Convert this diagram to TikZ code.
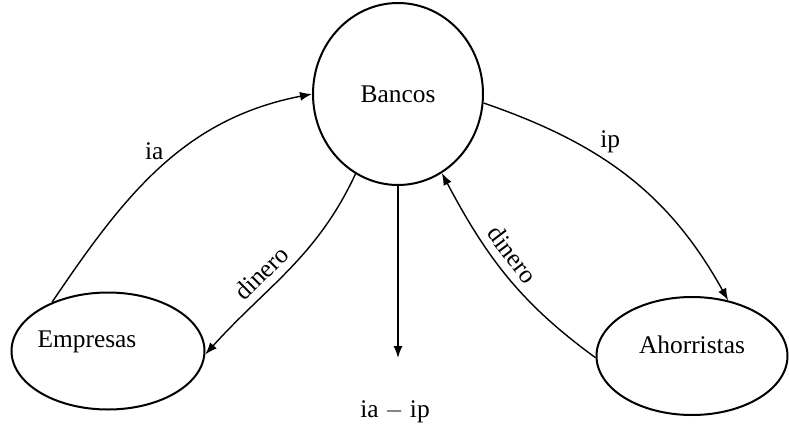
\documentclass[tikz,border=0pt]{standalone}
\usepackage{fontspec}
\setmainfont{Liberation Serif}
\usetikzlibrary{
  arrows.meta,
  shapes.geometric
}

\begin{document}
\begin{tikzpicture}[
  x=0.5pt, y=0.5pt,
  font=\fontsize{12.7}{15}\selectfont,
  agent/.style={
    ellipse, draw=black, line width=1pt, inner sep=0pt
  },
  flow/.style={-{Latex[length=6pt, width=4.5pt]}, black, line width=0.7pt},
]
\useasboundingbox (0,0) rectangle (789,-424);

% Agents
\node[agent, minimum width=85pt, minimum height=91pt] (bancos) at (398,-94) {Bancos};
\node[agent, minimum width=96.5pt, minimum height=58.5pt] (empresas) at (108,-351) {};
\node[agent, minimum width=95.5pt, minimum height=59pt] (ahorristas) at (692,-356) {};
\node (empresastxt) at (87,-342) {Empresas};
\node (ahorristastxt) at (692,-345) {Ahorristas};

% Margin
\coordinate (tip) at (398,-358);
\node (margen) at (395,-412) {ia~$-$~ip};

% Flows
\draw[flow] (empresas.139) to[out=56, in=191]
  node[pos=0.52, above left, inner sep=1pt] {ia} (bancos.180);
\draw[flow] (bancos.242) to[out=245, in=48]
  node[pos=0.6, sloped, above, inner sep=4pt] {dinero} (empresas.358);
\draw[flow] (bancos.south) -- (tip);
\draw[flow] (bancos.354) to[out=-19, in=119]
  node[pos=0.38, above right, inner sep=1pt] {ip} (ahorristas.57);
\draw[flow] (ahorristas.181) to[out=144, in=298]
  node[pos=0.56, sloped, above, inner sep=4pt] {dinero} (bancos.299);

\end{tikzpicture}
\end{document}
